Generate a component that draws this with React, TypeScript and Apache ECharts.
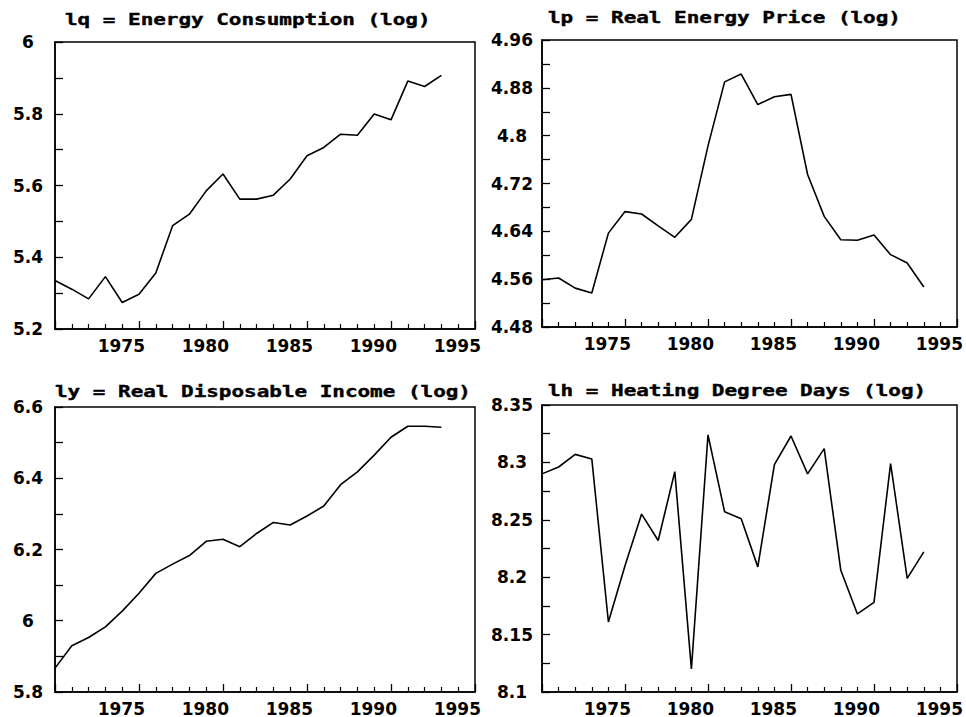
import React, { useEffect, useRef } from "react";
import * as echarts from "echarts";

const years = [1970, 1971, 1972, 1973, 1974, 1975, 1976, 1977, 1978, 1979, 1980, 1981, 1982, 1983, 1984, 1985, 1986, 1987, 1988, 1989, 1990, 1991, 1992, 1993];

const lq = [5.335, 5.311, 5.284, 5.346, 5.274, 5.297, 5.356, 5.488, 5.52, 5.585, 5.632, 5.562, 5.562, 5.573, 5.618, 5.683, 5.706, 5.743, 5.74, 5.799, 5.783, 5.891, 5.876, 5.907];
const lp = [4.559, 4.562, 4.545, 4.537, 4.637, 4.673, 4.669, 4.649, 4.63, 4.66, 4.783, 4.89, 4.903, 4.852, 4.865, 4.869, 4.735, 4.665, 4.626, 4.625, 4.634, 4.601, 4.587, 4.547];
const ly = [5.867, 5.93, 5.953, 5.983, 6.027, 6.077, 6.133, 6.159, 6.183, 6.223, 6.229, 6.208, 6.245, 6.276, 6.269, 6.294, 6.322, 6.382, 6.418, 6.465, 6.515, 6.546, 6.546, 6.543];
const lh = [8.29, 8.296, 8.307, 8.303, 8.161, 8.21, 8.255, 8.232, 8.292, 8.12, 8.324, 8.257, 8.251, 8.209, 8.298, 8.323, 8.29, 8.312, 8.206, 8.168, 8.178, 8.299, 8.199, 8.222];

const titles = [
  "lq = Energy Consumption (log)",
  "lp = Real Energy Price (log)",
  "ly = Real Disposable Income (log)",
  "lh = Heating Degree Days (log)",
];

const yMins = [5.2, 4.48, 5.8, 8.1];
const yMaxs = [6.0, 4.96, 6.6, 8.35];
const yIntervals = [0.2, 0.08, 0.2, 0.05];

const seriesData = [lq, lp, ly, lh];

const grids = [
  { left: 55, top: 42, width: 420, height: 287 },
  { left: 542, top: 40, width: 418, height: 287 },
  { left: 55, top: 407, width: 420, height: 288 },
  { left: 542, top: 405, width: 418, height: 288 },
];

const titlePos = [
  { x: 65, y: 19 },
  { x: 548, y: 17.5 },
  { x: 55, y: 391 },
  { x: 548, y: 390 },
];

export default function App() {
  const ref = useRef<HTMLDivElement>(null);
  useEffect(() => {
    if (!ref.current) return;
    const chart = echarts.init(ref.current, undefined, { renderer: "svg" });
    const numFont = "DejaVu Sans";
    const option: any = {
      animation: false,
      backgroundColor: "#fff",
      grid: grids.map((g) => ({
        ...g,
        show: true,
        borderColor: "#000",
        borderWidth: 1.5,
        backgroundColor: "transparent",
      })),
      xAxis: grids.map((_, i) => ({
        type: "value",
        gridIndex: i,
        min: 1970,
        max: 1995,
        interval: 5,
        axisLine: { show: true, onZero: false, lineStyle: { color: "#000", width: 1.5 } },
        axisTick: { show: true, inside: true, length: 8, lineStyle: { color: "#000", width: 1.3 } },
        minorTick: { show: true, splitNumber: 5, length: 5, lineStyle: { color: "#000", width: 1.2 } },
        splitLine: { show: false },
        axisLabel: {
          show: true,
          showMinLabel: false,
          color: "#000",
          fontFamily: numFont,
          fontWeight: "bold",
          fontSize: 17,
          margin: 8,
          align: "right",
          padding: [0, -6, 0, 0],
          formatter: (v: number) => String(v),
        },
      })),
      yAxis: grids.map((_, i) => ({
        type: "value",
        gridIndex: i,
        min: yMins[i],
        max: yMaxs[i],
        interval: yIntervals[i],
        axisLine: { show: true, onZero: false, lineStyle: { color: "#000", width: 1.5 } },
        axisTick: { show: true, inside: true, length: 8, lineStyle: { color: "#000", width: 1.3 } },
        minorTick: { show: true, splitNumber: 2, length: 8, lineStyle: { color: "#000", width: 1.3 } },
        splitLine: { show: false },
        axisLabel: {
          show: true,
          color: "#000",
          fontFamily: numFont,
          fontWeight: "bold",
          fontSize: 17,
          align: "center",
          margin: i % 2 === 0 ? 27 : 30,
          formatter: (v: number) => String(parseFloat(v.toFixed(3))),
        },
      })),
      series: seriesData.map((d, i) => ({
        type: "line",
        xAxisIndex: i,
        yAxisIndex: i,
        data: years.map((y, k) => [y, d[k]]),
        showSymbol: false,
        symbol: "none",
        lineStyle: { color: "#000", width: 1.6 },
        z: 3,
      })),
      graphic: titles.map((t, i) => ({
        type: "text",
        x: titlePos[i].x,
        y: titlePos[i].y,
        scaleX: 1.31,
        style: {
          text: t,
          fill: "#000",
          stroke: "#000",
          lineWidth: 0.4,
          font: "bold 16px 'DejaVu Sans Mono'",
          textAlign: "left",
          textVerticalAlign: "middle",
        },
      })),
    };
    chart.setOption(option);
    return () => chart.dispose();
  }, []);
  return (
    <div
      ref={ref}
      style={{ position: "fixed", left: 0, top: 0, width: 966, height: 717, background: "#fff" }}
    />
  );
}
